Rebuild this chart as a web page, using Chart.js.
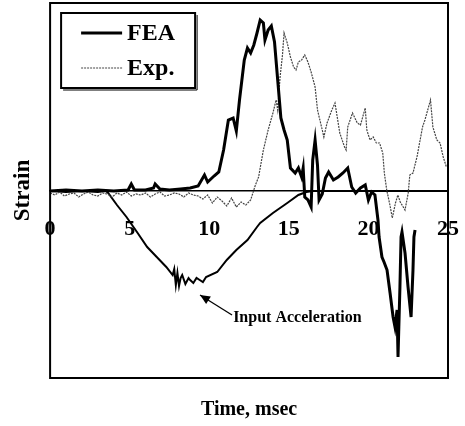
<!DOCTYPE html>
<html><head><meta charset="utf-8">
<script src="https://cdn.jsdelivr.net/npm/chart.js@4/dist/chart.umd.min.js"></script>
<style>html,body{margin:0;padding:0;background:#fff}</style>
</head><body>
<canvas id="c" width="465" height="426"></canvas>
<script>
// ---- data ----
const xTicks = [0, 5, 10, 15, 20, 25];
const seriesNames = ['FEA', 'Exp.', 'Input Acceleration'];
const xTitle = 'Time, msec';
const yTitle = 'Strain';

const feaT = [0,1,2,3,4,4.9,5.1,5.3,6,6.5,6.6,6.9,7.5,8.2,8.8,9.3,9.7,9.9,10.3,10.6,10.9,11.2,11.5,11.7,11.9,12.2,12.4,12.6,12.8,13.0,13.2,13.4,13.5,13.7,13.9,14.1,14.3,14.5,14.7,14.9,15.1,15.4,15.6,15.8,15.9,16.0,16.2,16.4,16.5,16.65,16.8,16.9,17.1,17.3,17.5,17.8,18.1,18.4,18.7,18.95,19.2,19.5,19.8,20.0,20.2,20.41,20.6,20.67,20.85,20.98,21.17,21.36,21.55,21.67,21.8,21.86,21.98,22.05,22.11,22.3,22.49,22.68,22.8,22.86,22.93];
const feaV = [0,0.01,0,0.01,0,0.01,0.07,0.01,0.01,0.03,0.07,0.02,0.01,0.02,0.03,0.05,0.16,0.09,0.15,0.19,0.41,0.71,0.73,0.60,0.91,1.31,1.43,1.38,1.46,1.58,1.71,1.68,1.51,1.61,1.65,1.49,1.11,0.73,0.61,0.51,0.23,0.18,0.23,0.14,0.23,-0.06,-0.09,-0.16,0.31,0.51,0.26,-0.09,-0.03,0.13,0.19,0.11,0.14,0.18,0.23,0.04,-0.02,0.03,0.06,-0.09,-0.01,-0.04,-0.29,-0.46,-0.66,-0.71,-0.79,-1.02,-1.26,-1.36,-1.19,-1.66,-0.96,-0.46,-0.41,-0.62,-0.96,-1.26,-0.79,-0.46,-0.39];

const expT = [0,0.3,0.6,0.9,1.2,1.5,1.8,2.1,2.4,2.7,3.0,3.3,3.6,3.9,4.2,4.5,4.8,5.1,5.4,5.7,6.0,6.3,6.6,6.9,7.2,7.5,7.8,8.1,8.4,8.7,9.0,9.3,9.6,9.9,10.2,10.5,10.8,11.1,11.4,11.7,12.0,12.3,12.6,12.9,13.1,13.4,13.7,14.0,14.2,14.3,14.45,14.6,14.7,14.9,15.1,15.3,15.45,15.6,15.8,16.0,16.2,16.4,16.65,16.8,17.1,17.2,17.4,17.7,17.9,18.0,18.2,18.5,18.6,18.7,19.0,19.3,19.5,19.8,19.9,20.1,20.3,20.5,20.7,20.9,21.0,21.15,21.35,21.5,21.7,21.85,22.0,22.3,22.5,22.6,22.8,23.05,23.4,23.55,23.9,24.05,24.3,24.5,24.7,24.9];
const expV = [-0.02,-0.04,-0.01,-0.05,-0.03,-0.02,-0.06,-0.03,-0.01,-0.04,-0.05,-0.02,-0.03,-0.06,-0.02,-0.04,-0.01,-0.05,-0.03,-0.04,-0.02,-0.06,-0.03,-0.01,-0.05,-0.04,-0.02,-0.03,-0.06,-0.02,-0.04,-0.05,-0.08,-0.04,-0.12,-0.06,-0.10,-0.15,-0.07,-0.16,-0.11,-0.14,-0.09,0.06,0.14,0.41,0.61,0.78,0.91,0.81,1.14,1.36,1.58,1.48,1.34,1.24,1.21,1.29,1.31,1.36,1.29,1.19,1.04,0.81,0.61,0.54,0.68,0.81,0.88,0.78,0.58,0.44,0.41,0.64,0.78,0.68,0.66,0.83,0.61,0.51,0.54,0.48,0.48,0.38,0.18,0.01,-0.14,-0.27,-0.12,-0.04,-0.11,-0.19,-0.02,0.16,0.18,0.34,0.64,0.71,0.91,0.64,0.51,0.48,0.34,0.24];

const accT = [0,1,2,3,3.5,3.65,4.2,4.8,5.5,6.1,6.7,7.3,7.7,7.8,7.9,8.0,8.1,8.2,8.3,8.5,8.7,8.8,9.0,9.2,9.4,9.6,9.8,10.5,11.1,11.7,12.4,13.0,13.2,14.0,14.9,15.6,16.1,16.5,25];
const accV = [0,-0.01,0,-0.01,0,-0.02,-0.14,-0.26,-0.42,-0.56,-0.66,-0.76,-0.84,-0.78,-0.94,-0.82,-0.95,-0.87,-0.84,-0.93,-0.87,-0.89,-0.92,-0.87,-0.89,-0.91,-0.86,-0.81,-0.69,-0.59,-0.49,-0.36,-0.32,-0.22,-0.12,-0.04,-0.01,0,0];

const zip = (t, v) => t.map((x, i) => ({x: x, y: v[i]}));
const SERIF = '"Liberation Serif", "Times New Roman", serif';

// frame around plot area
const framePlugin = {
  id: 'frame',
  afterDraw(chart) {
    const {ctx, chartArea: a} = chart;
    ctx.save();
    ctx.strokeStyle = '#000';
    ctx.lineWidth = 2;
    ctx.strokeRect(a.left, a.top, a.right - a.left, a.bottom - a.top);
    ctx.restore();
  }
};

// boxed legend (FEA / Exp.) inside the plot
const boxLegend = {
  id: 'boxLegend',
  afterDraw(chart) {
    const {ctx, chartArea: a} = chart;
    const bx = a.left + 11, by = a.top + 10, bw = 134, bh = 75;
    ctx.save();
    ctx.fillStyle = '#fff';
    ctx.fillRect(bx, by, bw, bh);
    ctx.strokeStyle = '#000';
    ctx.lineWidth = 2;
    ctx.strokeRect(bx, by, bw, bh);
    ctx.lineWidth = 1;
    ctx.beginPath();
    ctx.moveTo(bx + 2, by + bh + 2); ctx.lineTo(bx + bw + 2, by + bh + 2); ctx.lineTo(bx + bw + 2, by + 2);
    ctx.stroke();
    const rows = [by + 20, by + 55];
    [0, 1].forEach((di, i) => {
      const ds = chart.data.datasets[di];
      const y = rows[i];
      ctx.strokeStyle = ds.borderColor;
      ctx.lineWidth = ds.borderWidth;
      ctx.setLineDash(ds.borderDash || []);
      ctx.beginPath();
      ctx.moveTo(bx + 20, y); ctx.lineTo(bx + 61, y);
      ctx.stroke();
      ctx.setLineDash([]);
      ctx.fillStyle = '#000';
      ctx.font = 'bold 24px ' + SERIF;
      ctx.textBaseline = 'middle';
      ctx.textAlign = 'left';
      ctx.fillText(ds.label, bx + 66, y + 1);
    });
    ctx.restore();
  }
};

// arrow annotation for input acceleration
const arrowNote = {
  id: 'arrowNote',
  afterDatasetsDraw(chart) {
    const {ctx, scales: {x, y}} = chart;
    const hx = x.getPixelForValue(9.42), hy = y.getPixelForValue(-1.04);
    const tx = x.getPixelForValue(11.43), ty = y.getPixelForValue(-1.24);
    ctx.save();
    ctx.strokeStyle = '#000';
    ctx.fillStyle = '#000';
    ctx.lineWidth = 1.3;
    ctx.beginPath(); ctx.moveTo(tx, ty); ctx.lineTo(hx, hy); ctx.stroke();
    const ang = Math.atan2(hy - ty, hx - tx);
    const L = 10, W = 4.5;
    ctx.beginPath();
    ctx.moveTo(hx, hy);
    ctx.lineTo(hx - L * Math.cos(ang) + W * Math.sin(ang), hy - L * Math.sin(ang) - W * Math.cos(ang));
    ctx.lineTo(hx - L * Math.cos(ang) - W * Math.sin(ang), hy - L * Math.sin(ang) + W * Math.cos(ang));
    ctx.closePath(); ctx.fill();
    ctx.font = 'bold 16px ' + SERIF;
    ctx.textBaseline = 'middle';
    ctx.textAlign = 'left';
    ctx.fillText(seriesNames[2], x.getPixelForValue(11.5), y.getPixelForValue(-1.27));
    ctx.restore();
  }
};

new Chart(document.getElementById('c'), {
  type: 'scatter',
  data: {
    datasets: [
      {label: seriesNames[0], data: zip(feaT, feaV), showLine: true, borderColor: '#000', borderWidth: 3, pointRadius: 0, tension: 0, order: 1},
      {label: seriesNames[1], data: zip(expT, expV), showLine: true, borderColor: '#444', borderWidth: 1.2, borderDash: [2, 1], pointRadius: 0, tension: 0, order: 2},
      {label: seriesNames[2], data: zip(accT, accV), showLine: true, borderColor: '#000', borderWidth: 2, pointRadius: 0, tension: 0, order: 3}
    ]
  },
  options: {
    responsive: false,
    animation: false,
    devicePixelRatio: 1,
    layout: {padding: {left: 5, right: 17, top: 3, bottom: 0}},
    plugins: {legend: {display: false}, tooltip: {enabled: false}},
    scales: {
      x: {
        type: 'linear', min: 0, max: 25, position: 'bottom',
        grid: {display: false, drawTicks: false},
        border: {display: false},
        ticks: {display: false},
        title: {display: true, text: xTitle, color: '#000', font: {family: SERIF, size: 20, weight: 'bold'}, padding: {top: 20, bottom: 4}}
      },
      x2: {
        type: 'linear', axis: 'x', min: 0, max: 25, position: {y: 0},
        afterBuildTicks: s => { s.ticks = xTicks.map(v => ({value: v})); },
        afterFit: s => { s.paddingLeft = 0; s.paddingRight = 0; s.paddingTop = 0; s.paddingBottom = 0; },
        grid: {display: false, drawTicks: false},
        border: {display: true, color: '#000', width: 1.5},
        ticks: {color: '#000', padding: 25, maxRotation: 0, autoSkip: false, font: {family: SERIF, size: 22, weight: 'bold'}}
      },
      y: {
        type: 'linear', min: -1.87, max: 1.88, position: 'left',
        grid: {display: false, drawTicks: false},
        border: {display: false},
        ticks: {display: false},
        title: {display: true, text: yTitle, color: '#000', font: {family: SERIF, size: 23, weight: 'bold'}, padding: {top: 4.5, bottom: 13}}
      }
    }
  },
  plugins: [framePlugin, boxLegend, arrowNote]
});
</script>
</body></html>
